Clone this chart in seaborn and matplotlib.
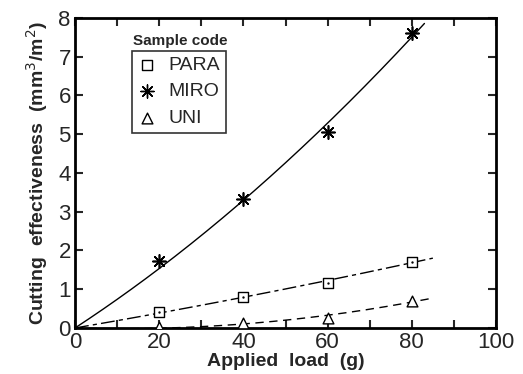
import numpy as np
import pandas as pd
import matplotlib
matplotlib.use("Agg")
import matplotlib.pyplot as plt
import seaborn as sns

# Data
loads = [20, 40, 60, 80]
para = [0.42, 0.81, 1.17, 1.71]
miro = [1.74, 3.32, 5.05, 7.62]
uni = [0.03, 0.13, 0.26, 0.70]
codes = ["PARA", "MIRO", "UNI"]
x_ticks = [0, 20, 40, 60, 80, 100]
y_ticks = [0, 1, 2, 3, 4, 5, 6, 7, 8]

sns.set_style("ticks")
plt.rcParams['font.family'] = ['Liberation Sans', 'DejaVu Sans']

df = pd.DataFrame({"load": loads * 3,
                   "value": para + miro + uni,
                   "code": [c for c in codes for _ in loads]})

fig = plt.figure(figsize=(5.23, 3.74), dpi=100)
ax = fig.add_axes([0.1434, 0.123, 0.8050, 0.829])

# fitted curves through origin (quadratic fit of the points)
styles = {"PARA": (0, (10, 3, 3, 3)), "MIRO": "-", "UNI": (0, (6, 4))}
ends = {"PARA": 85, "MIRO": 83, "UNI": 85}
for code in codes:
    sub = df[df.code == code]
    xs = np.array([0] + list(sub.load))
    ys = np.array([0] + list(sub.value))
    A = np.vstack([xs, xs ** 2]).T
    coef, *_ = np.linalg.lstsq(A, ys, rcond=None)
    xf = np.linspace(0, ends[code], 200)
    yf = coef[0] * xf + coef[1] * xf ** 2
    sns.lineplot(x=xf, y=yf, ax=ax, color="black", lw=1.0,
                 linestyle=styles[code], legend=False)

markers = {"PARA": "s", "MIRO": (8, 2, 0), "UNI": "^"}
handles = []
for code in codes:
    sub = df[df.code == code]
    if code == "MIRO":
        ax.scatter(sub.load, sub.value, marker=markers[code], s=90,
                   color="black", linewidths=1.2, zorder=3)
    else:
        ax.scatter(sub.load, sub.value, marker=markers[code], s=60,
                   facecolor="white", edgecolor="black", linewidths=1.0, zorder=3)
    if code == "PARA":
        ax.scatter(sub.load, sub.value, marker=".", s=2, color="black", zorder=4)
    h = ax.scatter([], [], marker=markers[code], s=60 if code != "MIRO" else 90,
                   facecolor="white" if code != "MIRO" else "black",
                   edgecolor="black", linewidths=1.0, label=code)
    handles.append(h)

ax.set_xlim(0, 100)
ax.set_ylim(0, 8)
ax.set_xticks(x_ticks)
ax.set_yticks(y_ticks)
ax.set_xticks(range(10, 100, 20), minor=True)
ax.tick_params(which="both", direction="in", top=True, right=True,
               labelsize=16, width=1.5, pad=3)
ax.tick_params(which="major", length=6)
ax.tick_params(which="minor", length=6)
for sp in ax.spines.values():
    sp.set_linewidth(2)
    sp.set_color("black")

ax.set_xlabel("Applied  load  (g)", fontsize=14, fontweight="bold", labelpad=0)
ax.set_ylabel("Cutting  effectiveness  (mm$^3$/m$^2$)", fontsize=14,
              fontweight="bold", labelpad=6)

leg = ax.legend(handles=handles, loc="upper left", bbox_to_anchor=(0.135, 0.895),
                fontsize=14, frameon=True, fancybox=False, edgecolor="black",
                handletextpad=0.6, borderpad=0.3, labelspacing=0.45,
                handlelength=1.0, borderaxespad=0)
leg.get_frame().set_linewidth(1.2)
ax.text(0.25, 0.925, "Sample code", transform=ax.transAxes, ha="center",
        va="center", fontsize=11, fontweight="bold")

fig.savefig("out.png", dpi=100)
